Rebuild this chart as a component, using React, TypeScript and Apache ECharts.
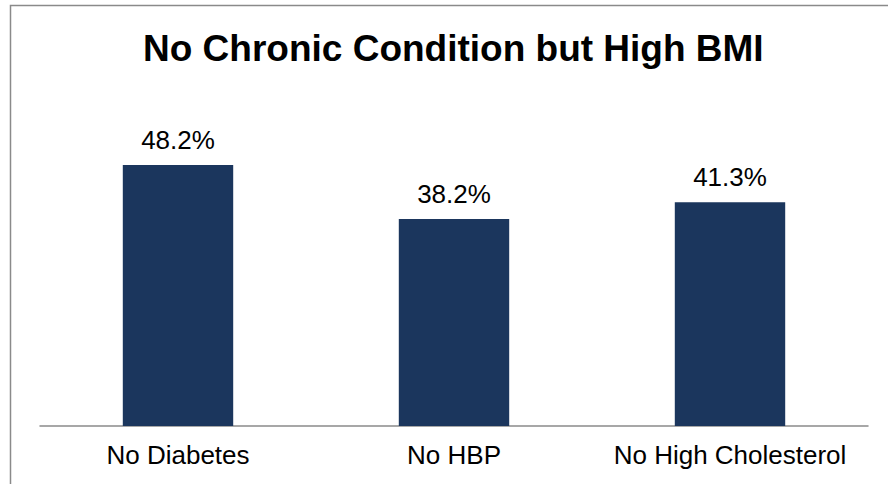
import React, { useEffect, useRef } from "react";
import * as echarts from "echarts";

const categories = ["No Diabetes", "No HBP", "No High Cholesterol"];
const values = [48.2, 38.2, 41.3];
const titleText = "No Chronic Condition but High BMI";

const FONT = "'Liberation Sans', Arial, Helvetica, sans-serif";

export default function App() {
  const ref = useRef<HTMLDivElement>(null);
  useEffect(() => {
    if (!ref.current) return;
    const chart = echarts.init(ref.current, undefined, { renderer: "svg" });
    chart.setOption({
      animation: false,
      backgroundColor: "#ffffff",
      title: {
        text: titleText,
        left: 143,
        top: 30,
        padding: 0,
        textStyle: { fontFamily: FONT, fontSize: 37, fontWeight: "bold", color: "#000000" },
      },
      graphic: [
        {
          type: "rect",
          shape: { x: 10.5, y: 5.5, width: 900, height: 500 },
          style: { fill: "none", stroke: "#8a8a8a", lineWidth: 1.5 },
          silent: true,
          z: -1,
        },
      ],
      grid: { left: 40, right: 20, top: 101, bottom: 58, containLabel: false },
      xAxis: {
        type: "category",
        data: categories,
        axisLine: { show: true, lineStyle: { color: "#8a8a8a", width: 1.5 } },
        axisTick: { show: false },
        axisLabel: { interval: 0, margin: 16, fontFamily: FONT, fontSize: 26, color: "#000000" },
      },
      yAxis: {
        type: "value",
        min: 0,
        max: 60,
        show: false,
        splitLine: { show: false },
      },
      series: [
        {
          type: "bar",
          data: values,
          barWidth: "40%",
          itemStyle: { color: "#1b365d" },
          label: {
            show: true,
            position: "top",
            distance: 12,
            formatter: (p: any) => p.value.toFixed(1) + "%",
            fontFamily: FONT,
            fontSize: 26,
            color: "#000000",
          },
        },
      ],
    });
    return () => chart.dispose();
  }, []);
  return (
    <div
      ref={ref}
      style={{ position: "fixed", left: 0, top: 0, width: 888, height: 484, background: "#fff" }}
    />
  );
}
